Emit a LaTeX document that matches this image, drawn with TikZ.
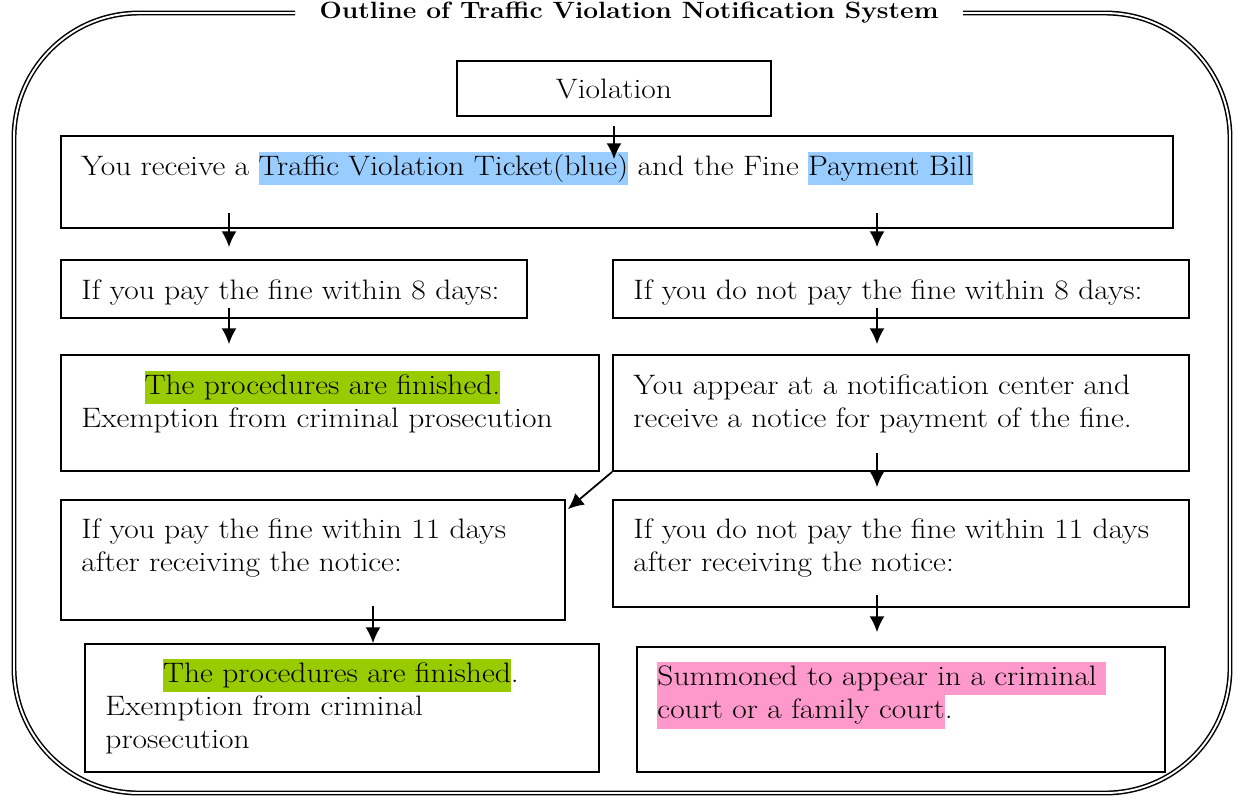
\documentclass[tikz,border=0pt]{standalone}
\usepackage{fontspec}
\setmainfont{Latin Modern Roman}[FakeStretch=1.12]
\usepackage{tikz}
\usetikzlibrary{arrows.meta,positioning,calc}

\definecolor{tickblue}{RGB}{153,204,255}
\definecolor{donegreen}{RGB}{153,204,0}
\definecolor{courtpink}{RGB}{255,153,204}
\newcommand{\hlmark}[2]{{\setlength{\fboxsep}{0pt}\colorbox{#1}{\strut #2}}}

\begin{document}
\begin{tikzpicture}[>={Latex[length=9pt,width=8.5pt]},
  box/.style={draw,line width=1pt,inner sep=0pt},
  txt/.style={inner sep=0pt,align=left,text width=10.2cm,font=\fontsize{16}{19}\selectfont},
  arr/.style={->,line width=1pt}]
\useasboundingbox (0,0) rectangle (24.78,-15.92);

% frame and title
\draw[line width=0.85pt,double distance=1.1pt,rounded corners=2.5cm]
  (5.9,-0.26) -- (0.28,-0.26) -- (0.28,-15.86) -- (24.6,-15.86) -- (24.6,-0.26) -- (19.26,-0.26);
\node[inner sep=0pt,font=\fontsize{13.4}{16}\selectfont\bfseries,anchor=base] (title) at (12.58,-0.37)
  {Outline of Traffic Violation Notification System};

% boxes
\node[box,font=\fontsize{16}{19}\selectfont,minimum width=6.28cm,minimum height=1.10cm] (viol) at (12.28,-1.77) {Violation};
\node[box,minimum width=22.24cm,minimum height=1.84cm] (recv) at (12.34,-3.64) {};
\node[box,minimum width=9.32cm,minimum height=1.16cm] (pay8) at (5.88,-5.78) {};
\node[box,minimum width=11.52cm,minimum height=1.16cm] (nopay8) at (18.02,-5.78) {};
\node[box,minimum width=10.76cm,minimum height=2.32cm] (fin1) at (6.60,-8.26) {};
\node[box,minimum width=11.52cm,minimum height=2.32cm] (appear) at (18.02,-8.26) {};
\node[box,minimum width=10.08cm,minimum height=2.40cm] (pay11) at (6.26,-11.20) {};
\node[box,minimum width=11.52cm,minimum height=2.14cm] (nopay11) at (18.02,-11.07) {};
\node[box,minimum width=10.28cm,minimum height=2.56cm] (fin2) at (6.84,-14.16) {};
\node[box,minimum width=10.56cm,minimum height=2.50cm] (summon) at (18.02,-14.19) {};

% texts
\node[txt,anchor=base west,text width=21cm] (recvtxt) at ($(recv.north west)+(0.42,-0.80)$)
  {You receive a \hlmark{tickblue}{Traffic Violation Ticket(blue)} and the Fine \hlmark{tickblue}{Payment Bill}};
\node[txt,anchor=base west] (pay8txt) at ($(pay8.north west)+(0.42,-0.80)$)
  {If you pay the fine within 8 days:};
\node[txt,anchor=base west,text width=10.9cm] (nopay8txt) at ($(nopay8.north west)+(0.42,-0.80)$)
  {If you do not pay the fine within 8 days:};
\node[txt,anchor=base west] (fin1txt) at ($(fin1.north west)+(0.42,-0.80)$)
  {\makebox[9.64cm]{\hlmark{donegreen}{The procedures are finished.}}\\
   Exemption from criminal prosecution};
\node[txt,anchor=base west,text width=10.9cm] (appeartxt) at ($(appear.north west)+(0.42,-0.80)$)
  {You appear at a notification center and\\ receive a notice for payment of the fine.};
\node[txt,anchor=base west] (pay11txt) at ($(pay11.north west)+(0.42,-0.78)$)
  {If you pay the fine within 11 days\\ after receiving the notice:};
\node[txt,anchor=base west,text width=10.9cm] (nopay11txt) at ($(nopay11.north west)+(0.42,-0.78)$)
  {If you do not pay the fine within 11 days\\ after receiving the notice:};
\node[txt,anchor=base west] (fin2txt) at ($(fin2.north west)+(0.42,-0.78)$)
  {\makebox[9.42cm]{\hlmark{donegreen}{The procedures are finished}.}\\
   Exemption from criminal\\ prosecution};
\node[txt,anchor=base west] (summontxt) at ($(summon.north west)+(0.42,-0.78)$)
  {\hlmark{courtpink}{Summoned to appear in a criminal }\\ \hlmark{courtpink}{court or a family court}.};

% arrows
\coordinate (colL) at (4.58,0);
\coordinate (colM) at (7.46,0);
\coordinate (colR) at (17.54,0);
\draw[arr] ($(viol.south)+(0,-0.18)$) -- ($(viol.south |- recv.north)+(0,-0.48)$);
\draw[arr] ($(colL |- recv.south)+(0,0.32)$) -- ($(colL |- pay8.north)+(0,0.24)$);
\draw[arr] ($(colR |- recv.south)+(0,0.32)$) -- ($(colR |- nopay8.north)+(0,0.24)$);
\draw[arr] ($(colL |- pay8.south)+(0,0.22)$) -- ($(colL |- fin1.north)+(0,0.20)$);
\draw[arr] ($(colR |- nopay8.south)+(0,0.22)$) -- ($(colR |- appear.north)+(0,0.20)$);
\draw[arr] ($(colR |- appear.south)+(0,0.38)$) -- ($(colR |- nopay11.north)+(0,0.24)$);
\draw[arr] (appear.south west) -- ($(pay11.north east)+(0.04,-0.20)$);
\draw[arr] ($(colM |- pay11.south)+(0,0.30)$) -- (colM |- fin2.north);
\draw[arr] ($(colR |- nopay11.south)+(0,0.26)$) -- ($(colR |- summon.north)+(0,0.28)$);
\end{tikzpicture}
\end{document}
